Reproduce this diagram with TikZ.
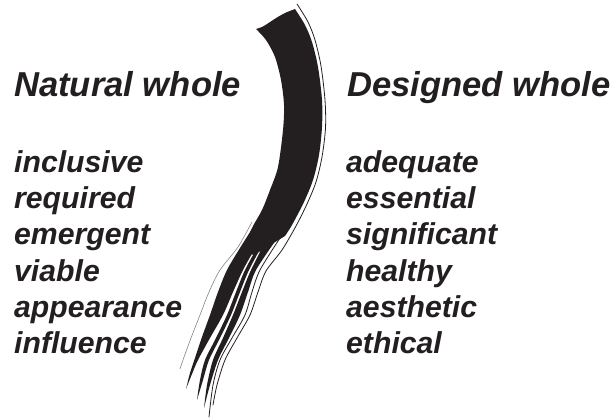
\documentclass[tikz,border=0pt]{standalone}
\usepackage{fontspec}
\setmainfont{Liberation Sans}
\definecolor{ink}{HTML}{231F20}
\begin{document}
\begin{tikzpicture}[x=1pt,y=-1pt,
  word/.style={anchor=base west, inner sep=0pt, text=ink,
    font=\fontsize{30.2}{36}\selectfont\bfseries\itshape},
  heading/.style={word, font=\fontsize{34.6}{40}\selectfont\bfseries\itshape},
  hair/.style={draw=ink, line width=0.8pt, line cap=round},
  grayhair/.style={draw=ink!55, line width=0.6pt, line cap=round}]
\useasboundingbox (0,0) rectangle (616,419);

% ---- brush stroke: main body, its lower end cut on a slant ----
\fill[ink]
  plot[smooth] coordinates {(256,29) (263,26.5) (270,22) (277,17.5) (285,13) (295,9)}
  -- plot[smooth] coordinates {(295,9) (305,25) (312,42) (318,67) (322,100) (322,127)
        (319,155) (313,180) (304,202) (292,225) (285,236)}
  -- (254,255) -- (242,252)
  -- plot[smooth] coordinates {(242,252) (252,228) (262,210) (270,190)
        (278,167) (283,130) (284,105) (281,80) (275,57) (266,40) (256,29)}
  -- cycle;

% ---- brush stroke: bristle streaks ----
\fill[ink]
  plot[smooth] coordinates {(252,229) (240,248) (227,270) (218,292) (210,315)
        (202,337) (195,358) (190,373) (186,389)}
  -- plot[smooth] coordinates {(186,389) (192,374) (198,360) (210,338) (223,315)
        (233,292) (243,270) (253,252) (262,236)}
  -- cycle;
\fill[ink]
  plot[smooth] coordinates {(258,246) (245,270) (236,292) (227,315) (216,338)
        (205,360) (200,380) (197,400)}
  -- plot[smooth] coordinates {(197,400) (203,380) (209,360) (220,338) (231,315)
        (240,292) (249,270) (264,242)}
  -- cycle;
\fill[ink]
  plot[smooth] coordinates {(266,240) (251,270) (242,292) (233,315) (223,338)
        (213,360) (207,385) (204,408)}
  -- plot[smooth] coordinates {(204,408) (210,385) (218,360) (229,338) (240,315)
        (248,292) (256,270) (276,240)}
  -- cycle;

% ---- fine hairs of the brush ----
\draw[hair] plot[smooth] coordinates {(280,238) (260,270) (252,292) (245,315)
        (232,338) (220,360) (213,385) (209,417)};
\draw[hair] plot[smooth] coordinates {(297,4) (308,22) (315,40) (321,66) (325,100)
        (325.5,128) (322,157) (316,182) (307,204) (296,226) (282,250) (266,271)
        (258,292) (250,315) (237,338) (225,360) (217,385) (213,405)};
\draw[grayhair] plot[smooth] coordinates {(252,222) (238,247) (220,270) (209,292)
        (200,315) (191,338) (183,360) (180,369)};

% ---- headings ----
\node[heading] (natural)  at (14,97)  {Natural whole};
\node[heading] (designed) at (347,97) {Designed whole};

% ---- left column ----
\node[word] (n1) at (14,173) {inclusive};
\node[word] (n2) at (14,209) {required};
\node[word] (n3) at (14,245) {emergent};
\node[word] (n4) at (14,282) {viable};
\node[word] (n5) at (14,318) {appearance};
\node[word] (n6) at (14,354) {influence};

% ---- right column ----
\node[word] (d1) at (346,173) {adequate};
\node[word] (d2) at (346,209) {essential};
\node[word] (d3) at (346,245) {significant};
\node[word] (d4) at (346,282) {healthy};
\node[word] (d5) at (346,318) {aesthetic};
\node[word] (d6) at (346,354) {ethical};
\end{tikzpicture}
\end{document}
